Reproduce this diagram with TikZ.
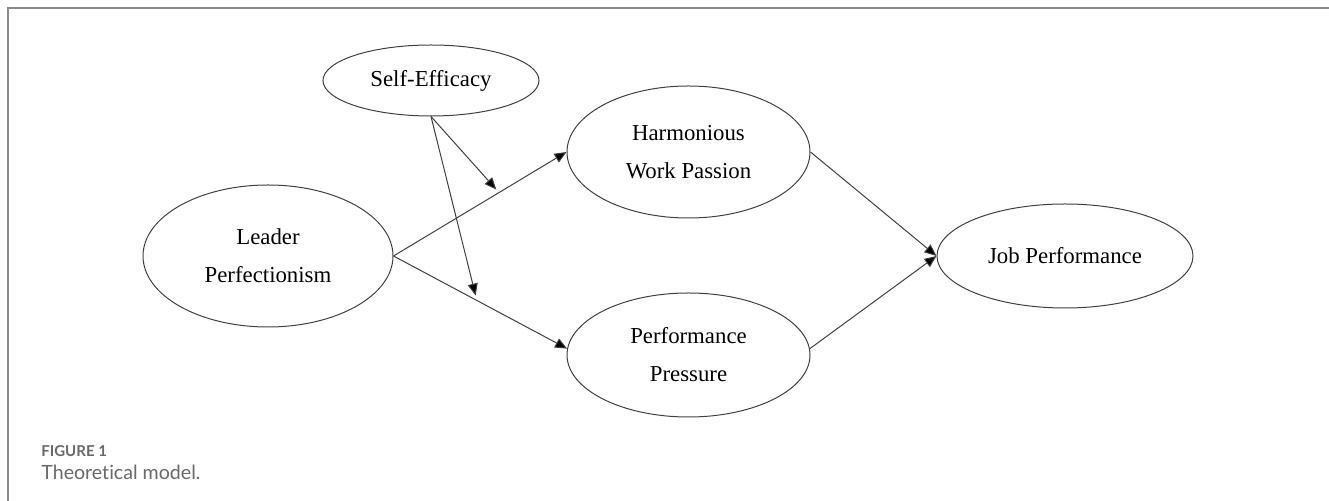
\documentclass[tikz,border=0pt]{standalone}
\usepackage{fontspec}
\setmainfont{Liberation Serif}
\newfontfamily\capfont[Ligatures={NoCommon,NoDiscretionary}]{Lato}
\usetikzlibrary{arrows.meta,shapes.geometric}
\definecolor{framegray}{RGB}{138,138,138}
\definecolor{capgray}{RGB}{105,105,105}
\tikzset{
  construct/.style={ellipse,draw=black!75,line width=0.5pt,inner sep=0pt,
    align=center,font=\fontsize{11.4}{19}\selectfont},
  link/.style={draw=black!75,line width=0.5pt,-{Triangle[length=6pt,width=5pt,fill=black]}},
  caption/.style={anchor=base west,inner sep=0pt,text=capgray}
}

\begin{document}
\begin{tikzpicture}[x=0.5pt,y=-0.5pt]
  \useasboundingbox (0,0) rectangle (1329,501);
  \draw[framegray,line width=1pt] (8,501) -- (8,8) -- (1329,8);

  \node[construct,minimum width=108pt,minimum height=35.5pt] (1) at (431,80.5) {Self-Efficacy};
  \node[construct,minimum width=125pt,minimum height=71pt] (2) at (268,256) {Leader\\Perfectionism};
  \node[construct,minimum width=121.5pt,minimum height=66pt] (3) at (688.5,152) {Harmonious\\Work Passion};
  \node[construct,minimum width=121.5pt,minimum height=62pt] (4) at (688.5,355) {Performance\\Pressure};
  \node[construct,minimum width=128pt,minimum height=52pt] (5) at (1065,256) {Job Performance};

  \path
  (2.east) edge[link] node[coordinate,pos=0.61] (m1) {} (3.west)
  (2.east) edge[link] node[coordinate,pos=0.48] (m2) {} (4.177)
  (3.east) edge[link] (5.west)
  (4.3) edge[link] (5.west);

  % moderation by self-efficacy
  \path
  (1.south) edge[link,shorten >=2pt] (m1)
  (1.south) edge[link,shorten >=2.5pt] (m2);

  \node[caption,font=\capfont\bfseries\fontsize{7.5}{10}\selectfont] (6) at (41,457) {FIGURE 1};
  \node[caption,font=\capfont\fontsize{9.8}{11}\selectfont] (7) at (41,480) {Theoretical model.};
\end{tikzpicture}
\end{document}
